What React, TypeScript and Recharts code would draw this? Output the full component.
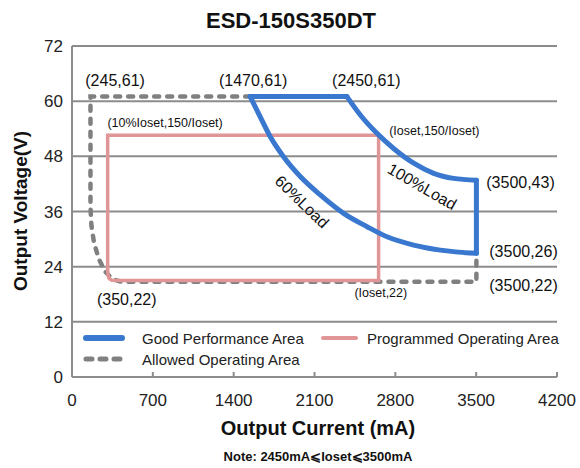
import React from 'react';
import { LineChart, Line, XAxis, YAxis, CartesianGrid, ReferenceDot, Legend, Customized } from 'recharts';

const xTicks = [0, 700, 1400, 2100, 2800, 3500, 4200];
const yTicks = [0, 12, 24, 36, 48, 60, 72];

// Good Performance Area (blue)
const goodTop = [
  { x: 1543, y: 61 },
  { x: 2381, y: 61 },
];
const goodOuter = [
  { x: 2381, y: 61.0 },
  { x: 2497, y: 57.0 },
  { x: 2641, y: 53.0 },
  { x: 2785, y: 49.7 },
  { x: 2959, y: 46.5 },
  { x: 3132, y: 44.3 },
  { x: 3305, y: 43.2 },
  { x: 3502, y: 42.8 },
];
const goodRight = [
  { x: 3502, y: 42.8 },
  { x: 3502, y: 26.9 },
];
const goodInner = [
  { x: 1543, y: 61.0 },
  { x: 1630, y: 56.6 },
  { x: 1716, y: 52.3 },
  { x: 1832, y: 47.9 },
  { x: 1977, y: 43.6 },
  { x: 2150, y: 39.6 },
  { x: 2352, y: 35.6 },
  { x: 2555, y: 32.7 },
  { x: 2728, y: 30.5 },
  { x: 2959, y: 28.7 },
  { x: 3190, y: 27.6 },
  { x: 3502, y: 26.9 },
];

// Programmed Operating Area (pink)
const programmed = [
  { x: 2655, y: 52.6 },
  { x: 309, y: 52.6 },
  { x: 309, y: 23.3 },
  { x: 312, y: 22.2 },
  { x: 322, y: 21.4 },
  { x: 345, y: 21.05 },
  { x: 401, y: 21.0 },
  { x: 2655, y: 21.0 },
  { x: 2655, y: 52.6 },
];

// Allowed Operating Area (gray dashed)
const allowed = [
  { x: 1543, y: 61 },
  { x: 160, y: 61 },
  { x: 160, y: 37 },
  { x: 168, y: 33 },
  { x: 190, y: 29.3 },
  { x: 230, y: 25.8 },
  { x: 285, y: 23.0 },
  { x: 350, y: 21.3 },
  { x: 430, y: 20.7 },
  { x: 3502, y: 20.7 },
  { x: 3502, y: 26.5 },
];

const annotations = [
  { x: 373, y: 64.4, text: '(245,61)', size: 16, rot: 0 },
  { x: 1569, y: 64.4, text: '(1470,61)', size: 16, rot: 0 },
  { x: 2549, y: 64.4, text: '(2450,61)', size: 16, rot: 0 },
  { x: 806, y: 55.3, text: '(10%Ioset,150/Ioset)', size: 12.5, rot: 0 },
  { x: 3138, y: 53.5, text: '(Ioset,150/Ioset)', size: 12.5, rot: 0 },
  { x: 3884, y: 42.2, text: '(3500,43)', size: 16, rot: 0 },
  { x: 3910, y: 27.3, text: '(3500,26)', size: 16, rot: 0 },
  { x: 3910, y: 20.0, text: '(3500,22)', size: 16, rot: 0 },
  { x: 474, y: 16.75, text: '(350,22)', size: 16, rot: 0 },
  { x: 2674, y: 18.2, text: '(Ioset,22)', size: 12.5, rot: 0 },
  { x: 3032, y: 41.4, text: '100%Load', size: 16, rot: 30 },
  { x: 1991, y: 38.1, text: '60%Load', size: 16, rot: 44 },
];

const BLUE = '#3a78cf';
const PINK = '#e09696';
const GRAY = '#808080';
const GRID = '#8c8c8c';
const FONT = '"Liberation Sans", Arial, sans-serif';

const XTick = (props: any) => {
  const { x, y, payload } = props;
  return (
    <g>
      <line x1={x} y1={y - 5} x2={x} y2={y} stroke={GRID} strokeWidth={2} />
      <text x={x} y={y + 29} textAnchor="middle" fontSize={17} fill="#222" fontFamily={FONT}>
        {payload.value}
      </text>
    </g>
  );
};

const AnnotationShape = (item: any) => (props: any) => {
  const { cx, cy } = props;
  return (
    <text
      x={cx}
      y={cy}
      textAnchor="middle"
      dominantBaseline="central"
      fontSize={item.size}
      fill="#111"
      fontFamily={FONT}
      transform={item.rot ? `rotate(${item.rot} ${cx} ${cy})` : undefined}
    >
      {item.text}
    </text>
  );
};

const LegendContent = () => (
  <svg width={500} height={46} style={{ display: 'block' }}>
    <line x1={8} y1={12} x2={44} y2={12} stroke={BLUE} strokeWidth={6} strokeLinecap="round" />
    <text x={64} y={12} dominantBaseline="central" fontSize={15} fill="#222" fontFamily={FONT}>Good Performance Area</text>
    <line x1={245} y1={12} x2={278} y2={12} stroke={PINK} strokeWidth={4} strokeLinecap="round" />
    <text x={289} y={12} dominantBaseline="central" fontSize={15} fill="#222" fontFamily={FONT}>Programmed Operating Area</text>
    <line x1={8} y1={33} x2={46} y2={33} stroke={GRAY} strokeWidth={5} strokeDasharray="6 8" strokeLinecap="round" />
    <text x={64} y={33} dominantBaseline="central" fontSize={15} fill="#222" fontFamily={FONT}>Allowed Operating Area</text>
  </svg>
);

const Titles = () => (
  <g fontFamily={FONT} fill="#111">
    <text x={291} y={28} textAnchor="middle" fontSize={22} fontWeight="bold">ESD-150S350DT</text>
    <text x={318} y={435} textAnchor="middle" fontSize={20} fontWeight="bold">Output Current (mA)</text>
    <text x={318} y={461} textAnchor="middle" fontSize={13} fontWeight="bold">Note:  2450mA⩽Ioset⩽3500mA</text>
    <text x={0} y={0} textAnchor="middle" fontSize={19} fontWeight="bold" transform="translate(27 211) rotate(-90)">Output Voltage(V)</text>
  </g>
);

export default function App() {
  return (
    <div style={{ position: 'absolute', left: 0, top: 0, width: 580, height: 468, background: '#fff' }}>
      <LineChart width={580} height={468} margin={{ top: 46, right: 23, bottom: 61, left: 0 }}>
        <CartesianGrid horizontal vertical={false} stroke={GRID} strokeWidth={2} />
        <XAxis
          type="number"
          dataKey="x"
          domain={[0, 4200]}
          ticks={xTicks}
          interval={0}
          height={30}
          axisLine={{ stroke: GRID, strokeWidth: 2 }}
          tickLine={false}
          tickSize={0}
          tickMargin={0}
          tick={<XTick />}
          allowDataOverflow
        />
        <YAxis
          type="number"
          dataKey="y"
          domain={[0, 72]}
          ticks={yTicks}
          interval={0}
          width={72}
          axisLine={{ stroke: GRID, strokeWidth: 2 }}
          tickLine={false}
          tickSize={0}
          tickMargin={9}
          tick={{ fontSize: 17, fill: '#222', fontFamily: FONT }}
          allowDataOverflow
        />
        <Line data={allowed} dataKey="y" type="linear" stroke={GRAY} strokeWidth={4.5} strokeDasharray="5 8" strokeLinecap="round" dot={false} isAnimationActive={false} legendType="none" />
        <Line data={programmed} dataKey="y" type="linear" stroke={PINK} strokeWidth={3.5} dot={false} isAnimationActive={false} legendType="none" />
        <Line data={goodTop} dataKey="y" type="linear" stroke={BLUE} strokeWidth={5} strokeLinecap="round" dot={false} isAnimationActive={false} legendType="none" />
        <Line data={goodOuter} dataKey="y" type="monotone" stroke={BLUE} strokeWidth={5} strokeLinecap="round" dot={false} isAnimationActive={false} legendType="none" />
        <Line data={goodRight} dataKey="y" type="linear" stroke={BLUE} strokeWidth={5} strokeLinecap="round" dot={false} isAnimationActive={false} legendType="none" />
        <Line data={goodInner} dataKey="y" type="monotone" stroke={BLUE} strokeWidth={5} strokeLinecap="round" dot={false} isAnimationActive={false} legendType="none" />
        {annotations.map((a, i) => (
          <ReferenceDot key={i} x={a.x} y={a.y} r={1} ifOverflow="visible" shape={AnnotationShape(a)} />
        ))}
        <Legend
          layout="horizontal"
          verticalAlign="middle"
          align="center"
          content={<LegendContent />}
          wrapperStyle={{ position: 'absolute', left: 78, top: 326, width: 500, height: 46 }}
        />
        <Customized component={<Titles />} />
      </LineChart>
    </div>
  );
}
